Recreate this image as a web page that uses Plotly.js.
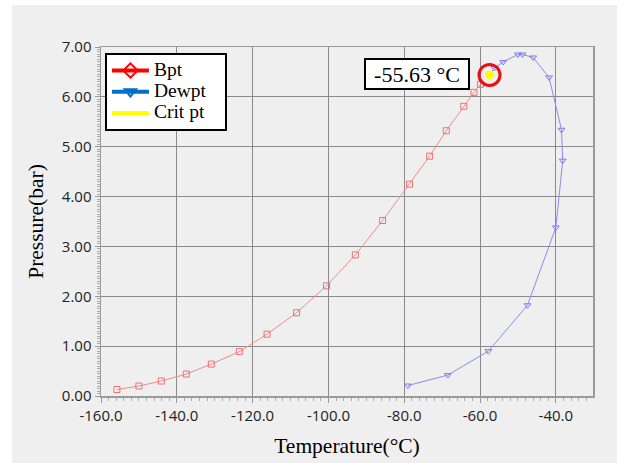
<!DOCTYPE html>
<html>
<head>
<meta charset="utf-8">
<script src="https://cdn.plot.ly/plotly-3.0.1.min.js"></script>
<style>
  html, body { margin: 0; padding: 0; background: #ffffff; width: 621px; height: 463px; overflow: hidden; }
  #chart { position: absolute; left: 12px; top: 5px; width: 605px; height: 458px; }
</style>
</head>
<body>
<div id="chart"></div>
<script>
// Bubble point curve
const bptT = [-155.8, -150.0, -144.1, -137.5, -130.9, -123.5, -116.2, -108.4, -100.5, -92.9, -85.7, -78.6, -73.3, -68.9, -64.3, -61.6, -59.9];
const bptP = [0.13, 0.20, 0.30, 0.44, 0.64, 0.89, 1.24, 1.67, 2.21, 2.83, 3.52, 4.25, 4.81, 5.32, 5.81, 6.09, 6.25];
// Dew point curve
const dewT = [-79.0, -68.5, -57.8, -47.5, -40.0, -38.2, -38.5, -41.8, -46.0, -48.8, -50.0, -53.9, -56.2];
const dewP = [0.21, 0.42, 0.90, 1.82, 3.38, 4.72, 5.34, 6.39, 6.79, 6.85, 6.85, 6.70, 6.58];
// Critical point
const critT = [-57.5];
const critP = [6.44];
const critLabel = '-55.63 \u00B0C';
const seriesNames = ['Bpt', 'Dewpt', 'Crit pt'];
const xTitle = 'Temperature(\u00B0C)';
const yTitle = 'Pressure(bar)';

const serif = 'Liberation Serif, Times New Roman, serif';
const sans = 'Open Sans, Noto Sans, sans-serif';
const legendName = (s) => '<span style="font-size:19.5px">' + s + '</span>\u00A0\u00A0\u00A0\u00A0';

const traces = [
  { x: bptT, y: bptP, type: 'scatter', mode: 'lines+markers', showlegend: false, hoverinfo: 'x+y',
    line: { color: '#f08c8c', width: 1 },
    marker: { symbol: 'square-open', size: 6, color: '#f07070', line: { width: 1 } } },
  { x: dewT.concat(critT), y: dewP.concat(critP), type: 'scatter', mode: 'lines', showlegend: false,
    line: { color: '#8c8cf0', width: 1 } },
  { x: dewT, y: dewP, type: 'scatter', mode: 'markers', showlegend: false,
    marker: { symbol: 'triangle-down-open', size: 6, color: '#7c7cf0', line: { width: 1 } } },
  { x: critT, y: critP, type: 'scatter', mode: 'markers', showlegend: false,
    marker: { symbol: 'circle', size: 9, color: '#ffff00' } },
  { x: critT, y: critP, type: 'scatter', mode: 'markers', showlegend: false,
    marker: { symbol: 'circle-open', size: 21, color: '#e81010', line: { width: 3 } } },
  // legend entries
  { x: [null], y: [null], type: 'scatter', mode: 'lines+markers', name: legendName(seriesNames[0]),
    line: { color: '#ff0000', width: 4 },
    marker: { symbol: 'diamond-open', size: 11, color: '#ff0000', line: { width: 2 } } },
  { x: [null], y: [null], type: 'scatter', mode: 'lines+markers', name: legendName(seriesNames[1]),
    line: { color: '#0070c8', width: 4 },
    marker: { symbol: 'triangle-down-open', size: 10, color: '#0070c8', line: { width: 2 } } },
  { x: [null], y: [null], type: 'scatter', mode: 'lines', name: legendName(seriesNames[2]),
    line: { color: '#ffff00', width: 4 } }
];

const layout = {
  width: 605, height: 458,
  paper_bgcolor: '#efefef',
  plot_bgcolor: '#efefef',
  margin: { l: 89, r: 24, t: 41.5, b: 67, pad: 0 },
  showlegend: true,
  legend: {
    x: 0.008, xanchor: 'left', y: 0.983, yanchor: 'top',
    bgcolor: '#ffffff', bordercolor: '#000000', borderwidth: 2,
    font: { family: serif, size: 14, color: '#000000' },
    itemwidth: 37, tracegroupgap: 0
  },
  xaxis: {
    range: [-160, -30.2],
    tickmode: 'array',
    tickvals: [-160, -140, -120, -100, -80, -60, -40],
    ticktext: ['-160.0', '-140.0', '-120.0', '-100.0', '-80.0', '-60.0', '-40.0'],
    ticks: 'outside', ticklen: 5, tickcolor: '#999999', tickwidth: 1,
    minor: { dtick: 2, ticks: 'outside', ticklen: 3, tickcolor: '#aaaaaa', showgrid: false },
    showgrid: true, gridcolor: '#8a8a8a', gridwidth: 1,
    showline: true, linecolor: '#9a9a9a', linewidth: 1.5, mirror: true,
    zeroline: false,
    tickfont: { family: sans, size: 15, color: '#222222' },
    title: { text: xTitle, font: { family: serif, size: 21.5, color: '#000000' }, standoff: 14 }
  },
  yaxis: {
    range: [0, 7],
    tickmode: 'array',
    tickvals: [0, 1, 2, 3, 4, 5, 6, 7],
    ticktext: ['0.00', '1.00', '2.00', '3.00', '4.00', '5.00', '6.00', '7.00'],
    ticks: 'outside', ticklen: 5, tickcolor: '#999999', tickwidth: 1,
    minor: { dtick: 0.05, ticks: 'outside', ticklen: 3, tickcolor: '#aaaaaa', showgrid: false },
    showgrid: true, gridcolor: '#8a8a8a', gridwidth: 1,
    showline: true, linecolor: '#9a9a9a', linewidth: 1.5, mirror: true,
    zeroline: false,
    tickfont: { family: sans, size: 15, color: '#222222' },
    title: { text: yTitle, font: { family: serif, size: 21.5, color: '#000000' }, standoff: 12 }
  },
  annotations: [{
    x: critT[0], y: critP[0], xref: 'x', yref: 'y',
    text: critLabel, showarrow: false, xshift: -73, yshift: 1,
    font: { family: serif, size: 22, color: '#000000' },
    bgcolor: '#ffffff', bordercolor: '#000000', borderwidth: 2,
    width: 100, height: 26, borderpad: 1
  }]
};

Plotly.newPlot('chart', traces, layout, { displayModeBar: false, staticPlot: true });
</script>
</body>
</html>
